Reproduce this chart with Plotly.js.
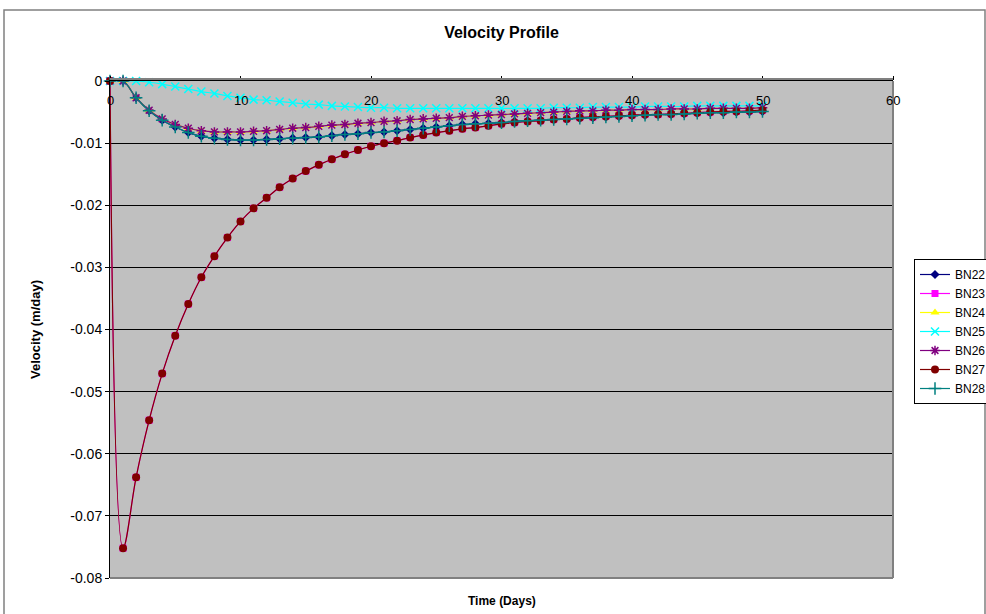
<!DOCTYPE html>
<html>
<head>
<meta charset="utf-8">
<script src="https://cdn.plot.ly/plotly-3.0.1.min.js"></script>
<style>html,body{margin:0;padding:0;background:#fff;}#chart{width:986px;height:614px;}</style>
</head>
<body>
<div id="chart"></div>
<script>
const days = [0,1,2,3,4,5,6,7,8,9,10,11,12,13,14,15,16,17,18,19,20,21,22,23,24,25,26,27,28,29,30,31,32,33,34,35,36,37,38,39,40,41,42,43,44,45,46,47,48,49,50];

const bn22 = [0,0,-0.0027,-0.0048,-0.0063,-0.0074,-0.0083,-0.0089,-0.0092,-0.0094,-0.0095,-0.0095,-0.0094,-0.0093,-0.0092,-0.0091,-0.0090,-0.0088,-0.0086,-0.0085,-0.0083,-0.0082,-0.0080,-0.0078,-0.0076,-0.0074,-0.0072,-0.0070,-0.0069,-0.0068,-0.0067,-0.0065,-0.0064,-0.0063,-0.0062,-0.0061,-0.0060,-0.0059,-0.0058,-0.0057,-0.0056,-0.0055,-0.0054,-0.0054,-0.0053,-0.0052,-0.0051,-0.0051,-0.0050,-0.0050,-0.0049];
const bn23 = [0,-0.0752,-0.0638,-0.0546,-0.0471,-0.0410,-0.0359,-0.0316,-0.0282,-0.0252,-0.0226,-0.0205,-0.0188,-0.0171,-0.0157,-0.0145,-0.0135,-0.0126,-0.0118,-0.0111,-0.0105,-0.0100,-0.0096,-0.0091,-0.0087,-0.0083,-0.0080,-0.0077,-0.0075,-0.0072,-0.0069,-0.0067,-0.0065,-0.0064,-0.0062,-0.0061,-0.0059,-0.0058,-0.0057,-0.0056,-0.0055,-0.0054,-0.0054,-0.0053,-0.0052,-0.0051,-0.0050,-0.0049,-0.0049,-0.0048,-0.0047];
const bn24 = [0,0,-0.0027,-0.0047,-0.0061,-0.0070,-0.0076,-0.0080,-0.0082,-0.0082,-0.0082,-0.0081,-0.0080,-0.0078,-0.0076,-0.0075,-0.0073,-0.0071,-0.0070,-0.0068,-0.0067,-0.0065,-0.0064,-0.0062,-0.0061,-0.0060,-0.0059,-0.0057,-0.0056,-0.0055,-0.0054,-0.0053,-0.0052,-0.0051,-0.0050,-0.0049,-0.0048,-0.0048,-0.0047,-0.0047,-0.0046,-0.0046,-0.0046,-0.0045,-0.0045,-0.0045,-0.0044,-0.0044,-0.0044,-0.0044,-0.0043];
const bn25 = [0,0,0,-0.0002,-0.0005,-0.0009,-0.0013,-0.0017,-0.0020,-0.0024,-0.0027,-0.0030,-0.0031,-0.0033,-0.0035,-0.0037,-0.0038,-0.0040,-0.0041,-0.0042,-0.0043,-0.0043,-0.0044,-0.0044,-0.0044,-0.0044,-0.0044,-0.0044,-0.0044,-0.0044,-0.0044,-0.0044,-0.0044,-0.0044,-0.0043,-0.0043,-0.0043,-0.0042,-0.0042,-0.0042,-0.0042,-0.0041,-0.0041,-0.0041,-0.0041,-0.0040,-0.0040,-0.0040,-0.0040,-0.0040,-0.0040];
const bn26 = [0,0,-0.0027,-0.0047,-0.0061,-0.0070,-0.0076,-0.0080,-0.0082,-0.0082,-0.0082,-0.0081,-0.0080,-0.0078,-0.0076,-0.0075,-0.0073,-0.0071,-0.0070,-0.0068,-0.0067,-0.0065,-0.0064,-0.0062,-0.0061,-0.0060,-0.0059,-0.0057,-0.0056,-0.0055,-0.0054,-0.0053,-0.0052,-0.0051,-0.0050,-0.0049,-0.0048,-0.0048,-0.0047,-0.0047,-0.0046,-0.0046,-0.0046,-0.0045,-0.0045,-0.0045,-0.0044,-0.0044,-0.0044,-0.0044,-0.0043];
const bn27 = [0,-0.0752,-0.0638,-0.0546,-0.0471,-0.0410,-0.0359,-0.0316,-0.0282,-0.0252,-0.0226,-0.0205,-0.0188,-0.0171,-0.0157,-0.0145,-0.0135,-0.0126,-0.0118,-0.0111,-0.0105,-0.0100,-0.0096,-0.0091,-0.0087,-0.0083,-0.0080,-0.0077,-0.0075,-0.0072,-0.0069,-0.0067,-0.0065,-0.0064,-0.0062,-0.0061,-0.0059,-0.0058,-0.0057,-0.0056,-0.0055,-0.0054,-0.0054,-0.0053,-0.0052,-0.0051,-0.0050,-0.0049,-0.0049,-0.0048,-0.0047];
const bn28 = [0,0,-0.0027,-0.0048,-0.0063,-0.0074,-0.0083,-0.0089,-0.0092,-0.0094,-0.0095,-0.0095,-0.0094,-0.0093,-0.0092,-0.0091,-0.0090,-0.0088,-0.0086,-0.0085,-0.0083,-0.0082,-0.0080,-0.0078,-0.0076,-0.0074,-0.0072,-0.0070,-0.0069,-0.0068,-0.0067,-0.0065,-0.0064,-0.0063,-0.0062,-0.0061,-0.0060,-0.0059,-0.0058,-0.0057,-0.0056,-0.0055,-0.0054,-0.0054,-0.0053,-0.0052,-0.0051,-0.0051,-0.0050,-0.0050,-0.0049];

const seriesNames = ["BN22","BN23","BN24","BN25","BN26","BN27","BN28"];
const yTickVals = [0,-0.01,-0.02,-0.03,-0.04,-0.05,-0.06,-0.07,-0.08];
const yTickText = ["0","-0.01","-0.02","-0.03","-0.04","-0.05","-0.06","-0.07","-0.08"];
const xTickVals = [0,10,20,30,40,50,60];
const xTickText = ["0","10","20","30","40","50","60"];

const seriesValues = [bn22,bn23,bn24,bn25,bn26,bn27,bn28];
const styles = [
  {color:"#000080", symbol:"diamond", size:7, lw:0},
  {color:"#FF00FF", symbol:"square", size:7, lw:0},
  {color:"#FFFF00", symbol:"triangle-up", size:8, lw:0},
  {color:"#00FFFF", symbol:"x-thin-open", size:8, lw:1.5},
  {color:"#800080", symbol:"asterisk-open", size:8, lw:1.5},
  {color:"#800000", symbol:"circle", size:8, lw:0},
  {color:"#008080", symbol:"cross-thin-open", size:9, lw:1.5}
];

const traces = seriesValues.map((vals,i)=>({
  type:"scatter", mode:"lines+markers", name:seriesNames[i],
  x:days, y:vals,
  line:{color:styles[i].color, width:1.2, shape:"spline", smoothing:1},
  marker:{color:styles[i].color, symbol:styles[i].symbol, size:styles[i].size,
          line:{color:styles[i].color, width:styles[i].lw}},
  cliponaxis:false
}));

const L=110, R=893, T=81, B=578;
const W=986, H=614;
const pw=R-L, ph=B-T;
const px = v => (v-L)/pw;
const py = v => (B-v)/ph;

const xLabelAnns = xTickVals.map((v,i)=>({
  text:xTickText[i], xref:"x", yref:"y", x:v, y:0, yshift:-19, xanchor:"center", yanchor:"middle",
  showarrow:false, font:{size:13}
}));

const layout = {
  width:W, height:H,
  margin:{l:L, r:W-R, t:T, b:H-B, autoexpand:false},
  paper_bgcolor:"#FFFFFF",
  plot_bgcolor:"#C0C0C0",
  font:{family:"Liberation Sans, Arial, sans-serif", color:"#000", size:12},
  title:{text:"<b>Velocity Profile</b>", font:{size:16, family:"Liberation Sans, Arial, sans-serif"}, xref:"paper", x:0.5, xanchor:"center", yref:"container", y:1-32/H, yanchor:"middle"},
  showlegend:true,
  legend:{x:px(914), xanchor:"left", y:py(259), yanchor:"top", bgcolor:"#FFFFFF", bordercolor:"#000000", borderwidth:1,
          font:{size:12, family:"Liberation Sans, Arial, sans-serif"}, tracegroupgap:0, itemwidth:30},
  xaxis:{range:[0,60], side:"top", tickvals:xTickVals, ticks:"outside", ticklen:4, tickcolor:"#000",
         showticklabels:false, showgrid:false, zeroline:false, showline:true, linecolor:"#000", linewidth:1,
         fixedrange:true},
  yaxis:{range:[-0.08,0], tickvals:yTickVals, ticktext:yTickText, ticks:"outside", ticklen:4, tickcolor:"#000",
         showgrid:true, gridcolor:"#000000", gridwidth:1, zeroline:false, showline:true, linecolor:"#000", linewidth:1,
         tickfont:{size:14}, fixedrange:true,
         title:{text:"<b>Velocity (m/day)</b>", font:{size:13}, standoff:26}},
  annotations:[
    {text:"<b>Time (Days)</b>", xref:"paper", yref:"paper", x:0.5, y:py(601), xanchor:"center", yanchor:"middle", showarrow:false, font:{size:12}}
  ].concat(xLabelAnns),
  shapes:[
    {type:"rect", xref:"paper", yref:"paper", x0:px(4), x1:px(985), y0:py(630), y1:py(10), line:{color:"#808080", width:1.5}, fillcolor:"rgba(0,0,0,0)", layer:"below"},
    {type:"line", xref:"paper", yref:"paper", x0:1, x1:1, y0:0, y1:1, line:{color:"#808080", width:2}},
    {type:"line", xref:"paper", yref:"paper", x0:0, x1:1, y0:0, y1:0, line:{color:"#808080", width:2}},
    {type:"line", xref:"paper", yref:"paper", x0:0, x1:1, y0:py(79), y1:py(79), line:{color:"#808080", width:2}}
  ]
};

Plotly.newPlot("chart", traces, layout, {displayModeBar:false, staticPlot:true});
</script>
</body>
</html>
